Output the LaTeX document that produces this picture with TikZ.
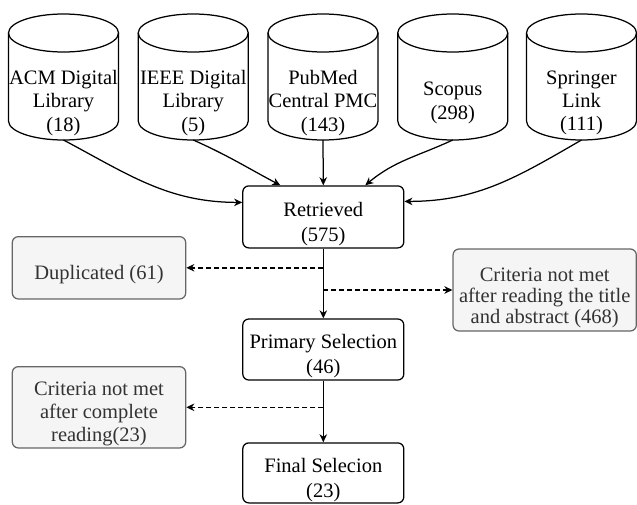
\documentclass[tikz,border=0pt]{standalone}
\usepackage{fontspec}
\setmainfont{Liberation Serif}
\usetikzlibrary{arrows.meta}
\newcommand\txtsize[1]{\fontsize{20.5}{#1}\selectfont}
\definecolor{grayfill}{HTML}{F5F5F5}
\definecolor{grayline}{HTML}{666666}
\definecolor{graytext}{HTML}{333333}
\tikzset{
  cyl/.style={draw=black, line width=1.25pt},
  cyltext/.style={align=center, inner sep=0pt, font=\txtsize{23.3}},
  blackbox/.style={draw=black, line width=1.25pt, rounded corners=6pt, minimum width=161pt, inner sep=0pt},
  graybox/.style={draw=grayline, fill=grayfill, line width=1.25pt, rounded corners=6pt, inner sep=0pt},
  boxtext/.style={align=center, inner sep=0pt, font=\txtsize{25}},
  graytxt/.style={align=center, inner sep=0pt, text=graytext},
  conn/.style={draw=black, line width=1.25pt, -{Stealth[length=8pt,width=7.5pt,inset=2.5pt]}},
  dconn/.style={conn, line width=1.4pt, dash pattern=on 5pt off 3pt},
}
\newcommand\dbcyl[3]{%
  \draw[cyl] (#2-55,33) -- (#2-55,121) arc[start angle=180,end angle=360,x radius=55pt,y radius=19pt] -- (#2+55,33);
  \draw[cyl] (#2,33) ellipse[x radius=55pt,y radius=19pt];
  \node[cyltext] (#1) at (#2,103) {#3};
  \coordinate (#1b) at (#2,140);
}
\begin{document}
\begin{tikzpicture}[x=1pt,y=-1pt]
\useasboundingbox (0,0) rectangle (637,505);
% databases
\dbcyl{acm}{63.5}{ACM Digital\\Library\\(18)}
\dbcyl{ieee}{193.25}{IEEE Digital\\Library\\(5)}
\dbcyl{pub}{323}{PubMed\\Central PMC\\(143)}
\dbcyl{sco}{452.75}{Scopus\\(298)}
\dbcyl{spr}{581.5}{Springer\\Link\\(111)}
% main flow boxes
\node[blackbox, minimum height=62pt] (ret) at (323.3,216.9) {};
\node[boxtext] (retT) at ([yshift=-7pt]ret.center) {Retrieved\\(575)};
\node[blackbox, minimum height=61pt] (prim) at (323.3,349.5) {};
\node[boxtext] (primT) at ([yshift=-7pt]prim.center) {Primary Selection\\(46)};
\node[blackbox, minimum height=60pt] (fin) at (323.3,472.9) {};
\node[boxtext] (finT) at ([yshift=-7pt]fin.center) {Final Selecion\\(23)};
% excluded boxes
\node[graybox, minimum width=173.4pt, minimum height=62.3pt] (dup) at (99,267.8) {};
\node[graytxt, font=\txtsize{25}] (dupT) at ([yshift=-7pt]dup.center) {Duplicated (61)};
\node[graybox, minimum width=183.3pt, minimum height=82pt] (crA) at (544.7,290) {};
\node[graytxt, font=\txtsize{21.3}] (crAT) at ([yshift=-8pt]crA.center) {Criteria not met\\after reading the title\\and abstract (468)};
\node[graybox, minimum width=173.4pt, minimum height=81.3pt] (crB) at (99,407.3) {};
\node[graytxt, font=\txtsize{23}] (crBT) at ([yshift=-7pt]crB.center) {Criteria not met\\after complete\\reading(23)};
% arrow end points on Retrieved
\coordinate (retL) at ([yshift=14.5pt]ret.west);
\coordinate (retR) at ([yshift=15.5pt]ret.east);
\coordinate (retNL) at ([xshift=-43pt]ret.north);
\coordinate (retNR) at ([xshift=42pt]ret.north);
% connectors
\draw[conn] (acmb) to[out=-28,in=180] (retL);
\draw[conn] (ieeeb) to[out=-24,in=152] (retNL);
\draw[conn] (pubb) -- (ret.north);
\draw[conn] (scob) to[out=-155,in=40] (retNR);
\draw[conn] (sprb) to[out=-150,in=0] (retR);
\draw[conn] (ret.south) -- (prim.north);
\draw[conn] (prim.south) -- (fin.north);
\coordinate (bDup) at (ret.south |- dup.east);
\coordinate (bCrA) at (ret.south |- crA.west);
\coordinate (bCrB) at (prim.south |- crB.east);
\draw[dconn] (bDup) -- (dup.east);
\draw[dconn] (bCrA) -- (crA.west);
\draw[dconn] (bCrB) -- (crB.east);
\end{tikzpicture}
\end{document}
